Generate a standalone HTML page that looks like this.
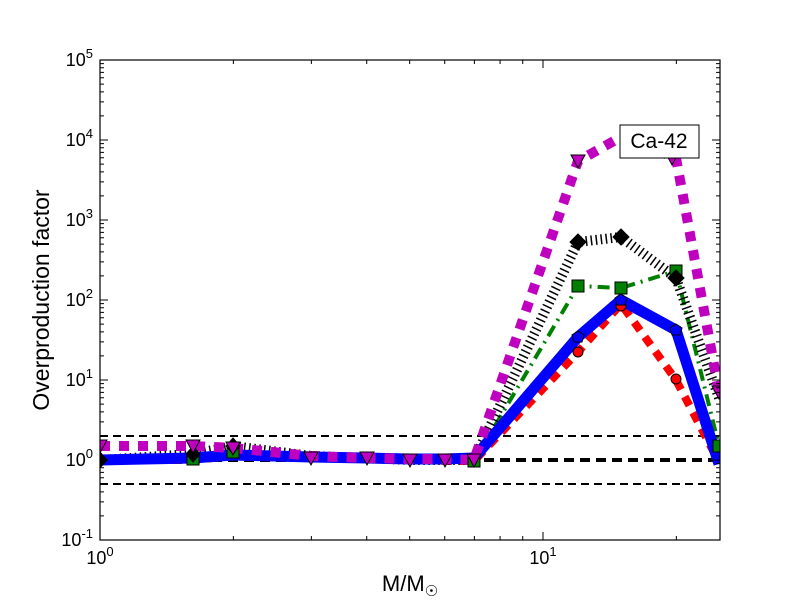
<!DOCTYPE html>
<html><head><meta charset="utf-8"><style>
body{margin:0;background:#fff}
svg{display:block}
text{font-family:"Liberation Sans","DejaVu Sans",sans-serif;fill:#000}
</style></head><body>
<svg id="s" width="800" height="600" viewBox="0 0 800 600" xmlns="http://www.w3.org/2000/svg">
<rect width="800" height="600" fill="#fff"/>
<defs><clipPath id="c"><rect x="100" y="60" width="620" height="480"/></clipPath></defs>
<g clip-path="url(#c)">
<line x1="100" x2="720" y1="436" y2="436" stroke="#000" stroke-width="2" stroke-dasharray="8,5"/>
<line x1="100" x2="720" y1="484" y2="484" stroke="#000" stroke-width="2" stroke-dasharray="8,5"/>
<line x1="100" x2="720" y1="460" y2="460" stroke="#000" stroke-width="4" stroke-dasharray="10,6"/>
<polyline fill="none" stroke="#f00" stroke-width="8" stroke-dasharray="10,8" points="100,460 193,460 233,456 311,457 367,458 410,460 445,461 474,461 578,352 621,304 676,380 719,462"/>
<polyline fill="none" stroke="#008000" stroke-width="4" stroke-dasharray="12,6,2,6" points="100,460 193,459 233,452 311,456 367,458 410,460 445,460 474,461 578,286 621,288 676,271 719,446"/>
<polyline fill="none" stroke="#000" stroke-width="10" stroke-dasharray="1.5,3.5" points="100,460 193,454 233,446 311,456 367,458 410,460 445,460 474,460 578,242 621,237 676,278 719,398"/>
<polyline fill="none" stroke="#00f" stroke-width="11" points="100,460 193,458 233,455 311,457 367,458 410,459 445,459 474,458 578,337 621,300 676,330 719,464"/>
<polyline fill="none" stroke="#bf00bf" stroke-width="10" stroke-dasharray="10,9" points="100,446 193,446 233,448 311,456 367,458 410,459 445,459 474,460 578,161 621,137 676,158 719,392"/>
<g stroke="#000" stroke-width="1">
<circle cx="578" cy="352" r="5" fill="#f00"/><circle cx="621" cy="306" r="5" fill="#f00"/><circle cx="676" cy="379" r="5" fill="#f00"/>
<rect x="572" y="280" width="12" height="12" fill="#008000"/><rect x="615" y="282" width="12" height="12" fill="#008000"/><rect x="670" y="265" width="12" height="12" fill="#008000"/><rect x="713" y="440" width="12" height="12" fill="#008000"/>
<rect x="187" y="453" width="12" height="12" fill="#008000"/><rect x="227" y="446" width="12" height="12" fill="#008000"/><rect x="468" y="455" width="12" height="12" fill="#008000"/>
<polygon points="578,234 586,242 578,250 570,242" fill="#000"/><polygon points="621,229 629,237 621,245 613,237" fill="#000"/><polygon points="676,270 684,278 676,286 668,278" fill="#000"/>
<polygon points="193,446 200,454 193,462 186,454" fill="#000"/><polygon points="233,438 240,446 233,454 226,446" fill="#000"/><polygon points="100,452 107,460 100,468 93,460" fill="#000"/>
<polygon points="578,331 584,335 582,342 574,342 572,335" fill="#00f"/><polygon points="621,294 627,298 625,305 617,305 615,298" fill="#00f"/><polygon points="676,324 682,328 680,335 672,335 670,328" fill="#00f"/>
<g fill="#bf00bf">
<polygon points="571,155 585,155 578,168"/><polygon points="665,152 679,152 672,165"/><polygon points="712,386 726,386 719,399"/>
<polygon points="93,440 107,440 100,453"/><polygon points="186,440 200,440 193,453"/><polygon points="226,442 240,442 233,455"/><polygon points="304,452 318,452 311,465"/><polygon points="360,452 374,452 367,465"/><polygon points="403,454 417,454 410,467"/><polygon points="438,454 452,454 445,467"/><polygon points="467,454 481,454 474,467"/>
</g></g>
</g>
<rect x="100" y="60" width="620" height="480" fill="none" stroke="#000" stroke-width="1.2"/>
<g id="ticks" stroke="#000" stroke-width="1"></g>
<g font-size="18">
<text x="93" y="66" text-anchor="end">10<tspan font-size="13" dy="-8">5</tspan></text>
<text x="93" y="146" text-anchor="end">10<tspan font-size="13" dy="-8">4</tspan></text>
<text x="93" y="226" text-anchor="end">10<tspan font-size="13" dy="-8">3</tspan></text>
<text x="93" y="306" text-anchor="end">10<tspan font-size="13" dy="-8">2</tspan></text>
<text x="93" y="386" text-anchor="end">10<tspan font-size="13" dy="-8">1</tspan></text>
<text x="93" y="466" text-anchor="end">10<tspan font-size="13" dy="-8">0</tspan></text>
<text x="93" y="546" text-anchor="end">10<tspan font-size="13" dy="-8">-1</tspan></text>
<text x="100" y="564" text-anchor="middle">10<tspan font-size="13" dy="-8">0</tspan></text>
<text x="543" y="564" text-anchor="middle">10<tspan font-size="13" dy="-8">1</tspan></text>
</g>
<text x="410" y="591" font-size="22" text-anchor="middle">M/M<tspan font-size="15" dy="5">☉</tspan></text>
<text transform="translate(49,300) rotate(-90)" font-size="23" text-anchor="middle">Overproduction factor</text>
<rect x="620" y="125" width="79" height="33" fill="#fff" stroke="#000" stroke-width="1"/>
<text x="659" y="148" font-size="21" text-anchor="middle">Ca-42</text>
</svg>
<script>
var g=document.getElementById('ticks'),d='';
for(var e=0;e<6;e++){var b=540-e*80;d+='M100 '+b+'h8M720 '+b+'h-8';
for(var k=2;k<10;k++){var y=b-80*Math.log10(k);d+='M100 '+y+'h4M720 '+y+'h-4';}}
d+='M100 540v-8M100 60v8M543 540v-8M543 60v8';
for(var k=2;k<10;k++){var x=100+443*Math.log10(k);d+='M'+x+' 540v-4M'+x+' 60v4';}
var x2=543+443*Math.log10(2);d+='M'+x2+' 540v-4M'+x2+' 60v4';
var p=document.createElementNS('http://www.w3.org/2000/svg','path');p.setAttribute('d',d);g.appendChild(p);
</script>
</body></html>
